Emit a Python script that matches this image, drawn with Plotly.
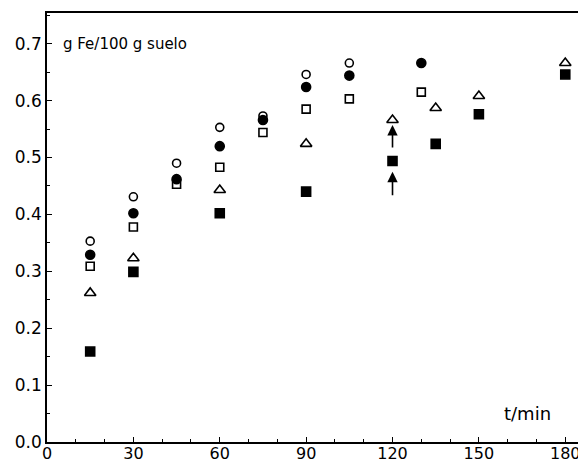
import plotly.graph_objects as go

# Data
t_open_circle = [15, 30, 45, 60, 75, 90, 105]
v_open_circle = [0.353, 0.431, 0.490, 0.553, 0.573, 0.646, 0.666]

t_filled_circle = [15, 30, 45, 60, 75, 90, 105, 130]
v_filled_circle = [0.329, 0.402, 0.462, 0.520, 0.566, 0.624, 0.644, 0.666]

t_open_square = [15, 30, 45, 60, 75, 90, 105, 130]
v_open_square = [0.309, 0.378, 0.453, 0.483, 0.544, 0.585, 0.603, 0.615]

t_triangle = [15, 30, 60, 90, 120, 135, 150, 180]
v_triangle = [0.262, 0.323, 0.443, 0.524, 0.566, 0.587, 0.608, 0.666]

t_filled_square = [15, 30, 60, 90, 120, 135, 150, 180]
v_filled_square = [0.159, 0.299, 0.402, 0.440, 0.494, 0.524, 0.576, 0.646]

# Arrows at t = 120 (head, tail)
arrow_t = [120, 120]
arrow_head = [0.557, 0.475]
arrow_tail = [0.515, 0.431]

x_ticks = [0, 30, 60, 90, 120, 150, 180]
y_ticks = [0.0, 0.1, 0.2, 0.3, 0.4, 0.5, 0.6, 0.7]
y_tick_text = ["0.0", "0.1", "0.2", "0.3", "0.4", "0.5", "0.6", "0.7"]

fig = go.Figure()

series = [
    (t_open_circle, v_open_circle, "circle-open", 8),
    (t_filled_circle, v_filled_circle, "circle", 9),
    (t_open_square, v_open_square, "square-open", 8),
    (t_triangle, v_triangle, "triangle-up-open", 10),
    (t_filled_square, v_filled_square, "square", 9),
]
for tx, vy, sym, sz in series:
    fig.add_trace(go.Scatter(
        x=tx, y=vy, mode="markers",
        marker=dict(symbol=sym, size=sz, color="black",
                    line=dict(color="black", width=1.6)),
        showlegend=False, cliponaxis=False,
    ))

for at, ah, atl in zip(arrow_t, arrow_head, arrow_tail):
    fig.add_annotation(
        x=at, y=ah, ax=at, ay=atl, xref="x", yref="y", axref="x", ayref="y",
        showarrow=True, arrowhead=2, arrowsize=1.3, arrowwidth=1.6,
        arrowcolor="black", text="", standoff=0,
    )

FAM = "DejaVu Sans, Arial, sans-serif"
fnt = dict(family=FAM, size=17, color="black")

fig.add_annotation(x=5, y=0.7, xref="x", yref="y", text="g Fe/100 g suelo",
                   showarrow=False, xanchor="left", yanchor="middle",
                   font=dict(family=FAM, size=15, color="black"))
fig.add_annotation(x=167, y=0.05, xref="x", yref="y", text="t/min",
                   showarrow=False, xanchor="center", yanchor="middle",
                   font=dict(family=FAM, size=18, color="black"))

# The page body adds an 8px offset, so the figure is sized to fill the rest
fig.update_layout(
    width=578, height=455,
    margin=dict(l=39, r=0, t=5, b=21, autoexpand=False),
    paper_bgcolor="white", plot_bgcolor="white",
    font=fnt,
    xaxis=dict(
        range=[0, 187.2], tickvals=x_ticks, ticks="inside", ticklen=5,
        tickwidth=1.2, tickcolor="black", showline=True, linecolor="black",
        linewidth=1.6, mirror=True, showgrid=False, zeroline=False,
        tickfont=dict(family=FAM, size=16, color="black"), automargin=False,
        ticklabelstandoff=-4,
        minor=dict(dtick=10, ticks="inside", ticklen=3, tickcolor="black", tickwidth=1),
    ),
    yaxis=dict(
        range=[0, 0.754], tickvals=y_ticks, ticktext=y_tick_text,
        ticks="inside", ticklen=5, tickwidth=1.2, tickcolor="black",
        showline=True, linecolor="black", linewidth=1.6, showgrid=False,
        zeroline=False, tickfont=fnt, automargin=False,
        minor=dict(dtick=0.05, ticks="inside", ticklen=3, tickcolor="black", tickwidth=1),
    ),
)

fig.write_html("out.html")
